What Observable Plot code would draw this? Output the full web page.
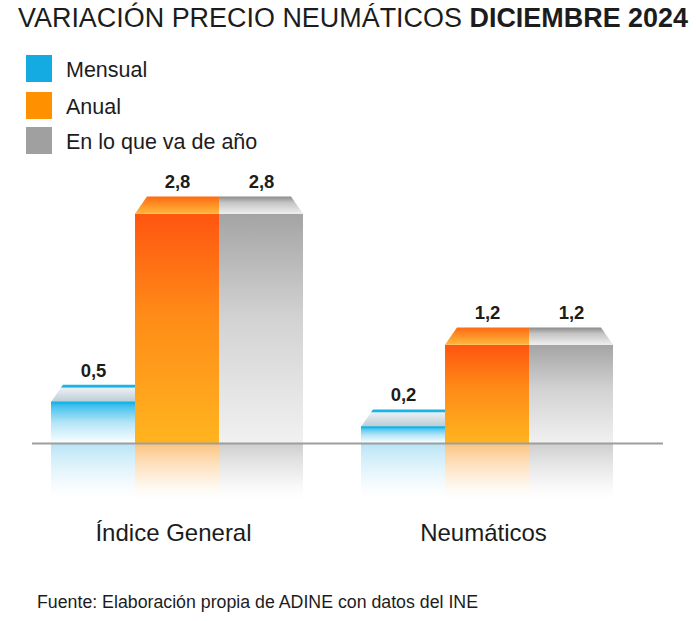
<!DOCTYPE html>
<html>
<head>
<meta charset="utf-8">
<script src="https://cdn.jsdelivr.net/npm/d3@7"></script>
<script src="https://cdn.jsdelivr.net/npm/@observablehq/plot@0.6"></script>
<style>
  body { margin: 0; background: #fff; }
  #wrap { position: relative; width: 696px; height: 621px; overflow: hidden;
          font-family: "Liberation Sans", Arial, Helvetica, sans-serif; color: #1c1c1c; }
  .t { position: absolute; white-space: nowrap; line-height: 1; transform-origin: 0 0; }
  .sw { position: absolute; width: 26px; height: 27px; }
  #chart { position: absolute; left: 0; top: 160px; }
</style>
</head>
<body>
<div id="wrap">
  <div id="title" class="t" style="left:18px; top:5px; font-size:27px;"></div>
  <div id="legend"></div>
  <div id="chart"></div>
  <div id="foot" class="t" style="left:37px; top:594px; font-size:17.5px;"></div>
</div>
<script>
// ---- data ----
const titleRegular = "VARIACIÓN PRECIO NEUMÁTICOS ";
const titleBold = "DICIEMBRE 2024";
const source = "Fuente: Elaboración propia de ADINE con datos del INE";
const categories = ["Índice General", "Neumáticos"];
const series = ["Mensual", "Anual", "En lo que va de año"];
const mensual = [0.5, 0.2];
const anual = [2.8, 1.2];
const enLoQueVa = [2.8, 1.2];
const seriesColors = ["#14abe3", "#ff9100", "#a0a0a0"];

const seriesValues = [mensual, anual, enLoQueVa];
const rows = categories.flatMap((c, ci) =>
  series.map((s, si) => ({cat: c, serie: s, si, value: seriesValues[si][ci]})));

// ---- title / legend / footer ----
const titleEl = document.getElementById("title");
titleEl.textContent = titleRegular;
const b = document.createElement("b"); b.textContent = titleBold; titleEl.appendChild(b);
const footEl = document.getElementById("foot");
footEl.textContent = source;

const legendTops = [55, 92, 127];
const legendFont = 21.5;
const legend = document.getElementById("legend");
series.forEach((s, i) => {
  const sw = document.createElement("div");
  sw.className = "sw";
  sw.style.left = "26px"; sw.style.top = legendTops[i] + "px"; sw.style.background = seriesColors[i];
  legend.appendChild(sw);
  const tx = document.createElement("div");
  tx.className = "t";
  tx.style.left = "66px";
  tx.style.top = (legendTops[i] + 5) + "px";
  tx.style.fontSize = legendFont + "px";
  tx.textContent = s;
  legend.appendChild(tx);
});

function fitWidth(el, target) {
  const w = el.getBoundingClientRect().width;
  if (w > 0) el.style.transform = `scaleX(${target / w})`;
}
fitWidth(titleEl, 670);
fitWidth(footEl, 441);

// ---- chart ----
const fmt = d => d3.format(".1f")(d.value).replace(".", ",");
const depth = 0.21;     // top-face depth (y units)
const reflect = 0.75;   // reflection length (y units)
const bevel = 12;       // px inset of top-face outer edges

const makeTrap = d => function(index, scales, values, dims, ctx, next) {
  const g = next(index, scales, values, dims, ctx);
  const rects = Array.from(g.querySelectorAll("rect"));
  rects.forEach((rect, k) => {
    const r = d[index[k]];
    const same = rows.filter(q => q.cat === r.cat);
    const prev = same[r.si - 1], nxt = same[r.si + 1];
    const insL = !prev || r.value > prev.value;
    const insR = !nxt || r.value > nxt.value;
    const x = +rect.getAttribute("x"), y = +rect.getAttribute("y");
    const w = +rect.getAttribute("width"), h = +rect.getAttribute("height");
    const p = document.createElementNS("http://www.w3.org/2000/svg", "path");
    p.setAttribute("d", `M${x},${y + h}L${x + w},${y + h}L${x + w - (insR ? bevel : 0)},${y}L${x + (insL ? bevel : 0)},${y}Z`);
    for (const a of Array.from(rect.attributes))
      if (!["x", "y", "width", "height"].includes(a.name)) p.setAttribute(a.name, a.value);
    rect.replaceWith(p);
  });
  return g;
};

const seriesMarks = series.flatMap((s, si) => {
  const d = rows.filter(r => r.si === si);
  return [
    Plot.barY(d, {fx: "cat", x: "serie", y1: 0, y2: -reflect, fill: `url(#refl${si})`}),
    Plot.barY(d, {fx: "cat", x: "serie", y: "value", fill: `url(#front${si})`}),
    Plot.barY(d, {fx: "cat", x: "serie", y1: "value", y2: r => r.value + depth,
                  fill: `url(#top${si})`, render: makeTrap(d)})
  ];
});

const plot = Plot.plot({
  width: 696,
  height: 400,
  marginLeft: 51,
  marginRight: 83,
  marginTop: 21,
  marginBottom: 117,
  style: {fontFamily: "'Liberation Sans', Arial, sans-serif", background: "transparent"},
  fx: {domain: categories, paddingInner: 58 / 310, paddingOuter: 0, axis: null, round: false, label: null},
  x: {domain: series, padding: 0, axis: null, round: false},
  y: {domain: [0, 3.2], axis: null},
  marks: [
    ...seriesMarks,
    Plot.tickY(rows.filter(r => r.si === 0), {fx: "cat", x: "serie", y: "value", stroke: "#16b3e8", strokeWidth: 2}),
    Plot.ruleY([{cat: categories[0]}], {fx: "cat", y: 0, stroke: "#9d9d9d", strokeWidth: 2, insetLeft: -19, insetRight: -29}),
    Plot.ruleY([{cat: categories[1]}], {fx: "cat", y: 0, stroke: "#9d9d9d", strokeWidth: 2, insetLeft: -29, insetRight: -50}),
    Plot.text(rows, {fx: "cat", x: "serie", y: "value", text: fmt, dy: -26, lineAnchor: "bottom",
                     fontSize: 18.5, fontWeight: "bold", fill: "#1c1c1c"}),
    Plot.text(categories, {fx: d => d, text: d => d, frameAnchor: "bottom", lineAnchor: "bottom",
                           dy: 97, dx: -4, fontSize: 24, fill: "#1c1c1c"})
  ]
});

// gradients
const defs = d3.select(plot).insert("defs", ":first-child");
function grad(id, stops) {
  const lg = defs.append("linearGradient").attr("id", id)
    .attr("x1", 0).attr("y1", 0).attr("x2", 0).attr("y2", 1);
  for (const [o, c, op] of stops)
    lg.append("stop").attr("offset", o).attr("stop-color", c).attr("stop-opacity", op ?? 1);
}
grad("front0", [[0, "#14b3e8"], [0.12, "#4cc4ee"], [0.5, "#b4e5f7"], [1, "#fbfeff"]]);
grad("front1", [[0, "#ff5510"], [0.45, "#ff8c18"], [1, "#ffb41f"]]);
grad("front2", [[0, "#a4a4a4"], [0.45, "#d2d2d2"], [1, "#f1f1f1"]]);
grad("top0", [[0, "#18b4e8"], [0.12, "#18b4e8"], [0.2, "#e9f0f4"], [1, "#bccbd3"]]);
grad("top1", [[0, "#ff6a12"], [1, "#ffb93c"]]);
grad("top2", [[0, "#8c8c8c"], [0.35, "#c4c4c4"], [1, "#efefef"]]);
grad("refl0", [[0, "#b6e3f6"], [0.55, "#dff3fb", 0.6], [1, "#ffffff", 0]]);
grad("refl1", [[0, "#fbc27c"], [0.55, "#fde2bf", 0.6], [1, "#ffffff", 0]]);
grad("refl2", [[0, "#cdcdcd"], [0.55, "#e6e6e6", 0.6], [1, "#ffffff", 0]]);

document.getElementById("chart").appendChild(plot);
</script>
</body>
</html>
